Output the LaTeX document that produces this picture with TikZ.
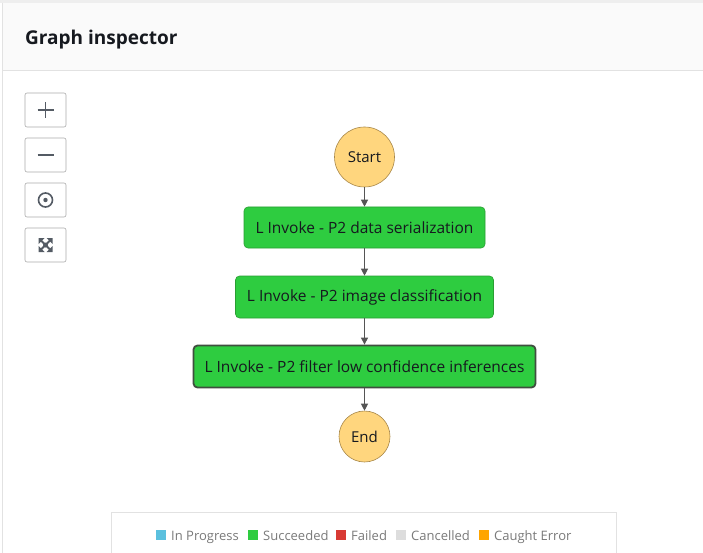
\documentclass[tikz,border=0pt]{standalone}
\usepackage{fontspec}
\setmainfont{Open Sans}
\usetikzlibrary{arrows.meta}
\definecolor{hdrbg}{HTML}{FAFAFA}
\definecolor{topstrip}{HTML}{EEEEEE}
\definecolor{linegray}{HTML}{E2E2E2}
\definecolor{btnline}{HTML}{AAAAAA}
\definecolor{icongray}{HTML}{545B64}
\definecolor{succ}{HTML}{2ECC40}
\definecolor{succline}{HTML}{2A9E33}
\definecolor{lastline}{HTML}{3F4F3F}
\definecolor{circfill}{HTML}{FFD67E}
\definecolor{circline}{HTML}{A8884A}
\definecolor{connc}{HTML}{555555}
\definecolor{txtdark}{HTML}{16191F}
\definecolor{legtext}{HTML}{7A7A7A}
\definecolor{inprog}{HTML}{5BC0DE}
\definecolor{failed}{HTML}{D83A34}
\definecolor{cancel}{HTML}{DDDDDD}
\definecolor{caught}{HTML}{FFA500}
\begin{document}
\begin{tikzpicture}[x=1pt,y=-1pt,
  task/.style={draw=succline, line width=0.6pt, fill=succ, rounded corners=4pt,
    font=\fontsize{15.5}{18}\selectfont, text=txtdark, inner sep=0pt},
  startend/.style={circle, draw=circline, line width=0.6pt, fill=circfill,
    font=\fontsize{15}{18}\selectfont, text=txtdark, inner sep=0pt},
  conn/.style={draw=connc, line width=1.1pt, -{Triangle[length=7pt,width=7pt]}},
  btn/.style={draw=btnline, line width=0.6pt, fill=white, rounded corners=2pt,
    minimum width=41pt, minimum height=34pt, inner sep=0pt},
  icon/.style={draw=icongray, line width=1.6pt},
  legsq/.style={minimum size=10pt, inner sep=0pt},
  legtxt/.style={anchor=base west, text=legtext, font=\fontsize{13}{15}\selectfont, inner sep=0pt}
]
\useasboundingbox (0,0) rectangle (703,553);
\fill[white] (0,0) rectangle (703,553);
% header
\fill[topstrip] (0,0) rectangle (703,3);
\fill[hdrbg] (2,3) rectangle (703,70);
\draw[linegray, line width=1pt] (2,70.5) -- (703,70.5);
\draw[linegray, line width=1pt] (2,3) -- (2,553);
\node[anchor=base west, text=txtdark, font=\fontsize{19}{22}\selectfont\bfseries, inner sep=0pt] (title) at (25,44.5) {Graph inspector};
% zoom buttons
\node[btn] (zin) at (45.5,110) {};
\node[btn] (zout) at (45.5,155) {};
\node[btn] (zcenter) at (45.5,200) {};
\node[btn] (zfit) at (45.5,245) {};
\draw[icon] ([xshift=-8pt]zin.center) -- ([xshift=8pt]zin.center);
\draw[icon] ([yshift=-8pt]zin.center) -- ([yshift=8pt]zin.center);
\draw[icon] ([xshift=-8pt]zout.center) -- ([xshift=8pt]zout.center);
\draw[icon] (zcenter.center) circle[radius=7pt];
\fill[icongray] (zcenter.center) circle[radius=2.2pt];
% expand icon
\fill[icongray] ([xshift=-7pt,yshift=7pt]zfit.center) -- ++(6,0) -- ++(-6,6) -- cycle;
\fill[icongray] ([xshift=7pt,yshift=7pt]zfit.center) -- ++(-6,0) -- ++(6,6) -- cycle;
\fill[icongray] ([xshift=-7pt,yshift=-7pt]zfit.center) -- ++(6,0) -- ++(-6,-6) -- cycle;
\fill[icongray] ([xshift=7pt,yshift=-7pt]zfit.center) -- ++(-6,0) -- ++(6,-6) -- cycle;
\draw[icon, line width=1.8pt] ([xshift=-5.5pt,yshift=5.5pt]zfit.center) -- ([xshift=5.5pt,yshift=-5.5pt]zfit.center);
\draw[icon, line width=1.8pt] ([xshift=5.5pt,yshift=5.5pt]zfit.center) -- ([xshift=-5.5pt,yshift=-5.5pt]zfit.center);
\fill[icongray] (zfit.center) circle[radius=2.5pt];
% graph
\node[startend, minimum size=60pt] (start) at (364.5,157) {Start};
\node[task, minimum width=241pt, minimum height=41pt] (t1) at (364.5,227.5) {L Invoke - P2 data serialization};
\node[task, minimum width=258pt, minimum height=42pt] (t2) at (364.5,297) {L Invoke - P2 image classification};
\node[task, draw=lastline, line width=1.8pt, minimum width=342pt, minimum height=42pt] (t3) at (364.5,366.5) {L Invoke - P2 filter low confidence inferences};
\node[startend, minimum size=51pt] (end) at (364.5,436.5) {End};
\draw[conn] (start) -- (t1);
\draw[conn] (t1) -- (t2);
\draw[conn] (t2) -- (t3);
\draw[conn] (t3) -- (end);
% legend
\draw[linegray, line width=1pt] (111,553) -- (111,512.5) -- (616,512.5) -- (616,553);
\node[legsq, fill=inprog] (sq1) at (161,535) {};
\node[legtxt] (l1) at (171,540) {In Progress};
\node[legsq, fill=succ] (sq2) at (253,535) {};
\node[legtxt] (l2) at (263,540) {Succeeded};
\node[legsq, fill=failed] (sq3) at (341,535) {};
\node[legtxt] (l3) at (351,540) {Failed};
\node[legsq, fill=cancel] (sq4) at (401,535) {};
\node[legtxt] (l4) at (411,540) {Cancelled};
\node[legsq, fill=caught] (sq5) at (484,535) {};
\node[legtxt] (l5) at (494,540) {Caught Error};
\end{tikzpicture}
\end{document}
